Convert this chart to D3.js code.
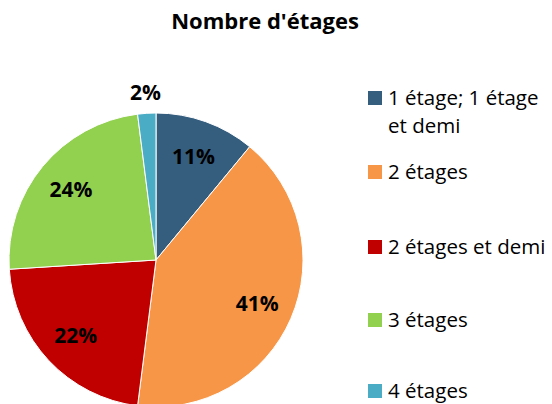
<!DOCTYPE html>
<html>
<head>
<meta charset="utf-8">
<script src="https://cdn.jsdelivr.net/npm/d3@7"></script>
<style>
  html, body { margin: 0; padding: 0; background: #fff; }
  svg { display: block; }
</style>
</head>
<body>
<svg id="chart" width="552" height="404"></svg>
<script>
// Share of buildings by number of storeys (percent)
const categories = ["1 étage; 1 étage et demi", "2 étages", "2 étages et demi", "3 étages", "4 étages"];
const legendLines = [["1 étage; 1 étage", "et demi"], ["2 étages"], ["2 étages et demi"], ["3 étages"], ["4 étages"]];
const values = [11, 41, 22, 24, 2];
const colors = ["#355D7E", "#F79646", "#C00000", "#92D050", "#4BACC6"];

const svg = d3.select("#chart");
const font = "'Open Sans', sans-serif";

svg.append("text")
  .attr("x", 265).attr("y", 29)
  .attr("text-anchor", "middle")
  .attr("font-family", font).attr("font-weight", "bold")
  .attr("font-size", 22).attr("fill", "#000")
  .text("Nombre d'étages");

const cx = 156, cy = 260, r = 147;
const g = svg.append("g").attr("transform", `translate(${cx},${cy})`);

const pie = d3.pie().sort(null).value(d => d);
const arcs = pie(values);
const arc = d3.arc().innerRadius(0).outerRadius(r);
const labelArc = d3.arc().innerRadius(r * 0.75).outerRadius(r * 0.75);
const outerLabelArc = d3.arc().innerRadius(r * 1.14).outerRadius(r * 1.14);

g.selectAll("path.slice").data(arcs).enter().append("path")
  .attr("class", "slice")
  .attr("d", arc)
  .attr("fill", (d, i) => colors[i])
  .attr("stroke", "#fff").attr("stroke-width", 1);

g.selectAll("text.pct").data(arcs).enter().append("text")
  .attr("class", "pct")
  .attr("transform", d => {
    const small = d.data < 5;
    const p = (small ? outerLabelArc : labelArc).centroid(d);
    return `translate(${p[0]},${p[1]})`;
  })
  .attr("text-anchor", "middle")
  .attr("dy", "0.36em")
  .attr("font-family", font).attr("font-weight", "bold")
  .attr("font-size", 21).attr("fill", "#000")
  .text(d => d.data + "%");

// Legend
const legendY = [98, 172, 247, 320, 391];
const legend = svg.append("g");
categories.forEach((c, i) => {
  const row = legend.append("g").attr("transform", `translate(368,${legendY[i]})`);
  row.append("rect")
    .attr("x", 0).attr("y", -7).attr("width", 14).attr("height", 14)
    .attr("fill", colors[i]);
  const t = row.append("text")
    .attr("x", 20).attr("y", 7)
    .attr("font-family", font).attr("font-size", 20.5).attr("fill", "#000");
  legendLines[i].forEach((line, j) => {
    t.append("tspan").attr("x", 20).attr("dy", j === 0 ? 0 : 28).text(line);
  });
});
</script>
</body>
</html>
